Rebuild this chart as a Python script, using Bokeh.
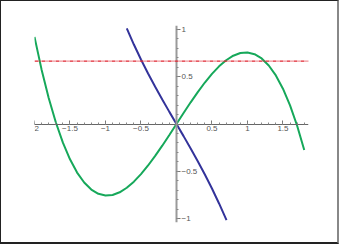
from bokeh.plotting import figure
from bokeh.models import LinearAxis, FixedTicker, Span, Range1d
from bokeh.embed import file_html
from bokeh.resources import INLINE

# green curve samples
green_x = [-2.0, -1.9, -1.8, -1.7, -1.6, -1.5, -1.4, -1.3, -1.2, -1.1, -1.0, -0.9, -0.8, -0.7, -0.6,
           -0.5, -0.4, -0.3, -0.2, -0.1, 0.0, 0.1, 0.2, 0.3, 0.4, 0.5, 0.6, 0.7, 0.8, 0.9, 1.0,
           1.1, 1.2, 1.3, 1.4, 1.5, 1.6, 1.7, 1.8]
green_y = [0.92, 0.574, 0.274, 0.018, -0.197, -0.373, -0.513, -0.618, -0.692, -0.737, -0.755, -0.749,
           -0.721, -0.673, -0.609, -0.529, -0.438, -0.337, -0.229, -0.116, 0.0, 0.116, 0.229, 0.337,
           0.438, 0.529, 0.609, 0.673, 0.721, 0.749, 0.755, 0.737, 0.692, 0.618, 0.513, 0.373,
           0.197, -0.018, -0.274]

# blue curve samples
blue_x = [-0.70, -0.6, -0.5, -0.4, -0.3, -0.2, -0.1, 0.0, 0.1, 0.2, 0.3, 0.4, 0.5, 0.6, 0.705]
blue_y = [1.01, 0.839, 0.681, 0.533, 0.393, 0.259, 0.128, 0.0, -0.128, -0.259, -0.393, -0.533,
          -0.681, -0.839, -1.015]

# horizontal reference line
ref_level = 0.663

x_ticks = [-2, -1.5, -1, -0.5, 0.5, 1, 1.5]
x_labels = ["\u22122", "\u22121.5", "\u22121", "\u22120.5", "0.5", "1", "1.5"]
y_ticks = [-1, -0.5, 0.5, 1]
y_labels = ["\u22121", "\u22120.5", "0.5", "1"]
x_minor = [round(-2 + 0.1 * i, 2) for i in range(39)]
y_minor = [round(-1 + 0.1 * i, 2) for i in range(21)]

p = figure(width=339, height=244, output_backend="svg", toolbar_location=None,
           x_range=Range1d(-2, 1.86), y_range=Range1d(-1.04, 1.04),
           x_axis_location=None, y_axis_location=None,
           min_border_left=33, min_border_right=32, min_border_top=24, min_border_bottom=23)
p.grid.visible = False
p.outline_line_color = None
p.background_fill_color = "white"
p.border_fill_color = "white"

xa = LinearAxis(fixed_location=0, ticker=FixedTicker(ticks=x_ticks, minor_ticks=x_minor))
xa.major_label_overrides = {float(t): l for t, l in zip(x_ticks, x_labels)}
xa.axis_line_color = "#666666"
xa.axis_line_width = 1
xa.major_tick_in = 4
xa.major_tick_out = 0
xa.minor_tick_in = 2
xa.minor_tick_out = 0
xa.major_tick_line_color = "#777777"
xa.minor_tick_line_color = "#888888"
xa.major_label_text_font = "Liberation Sans"
xa.major_label_text_font_size = "8px"
xa.major_label_text_color = "#555555"
xa.major_label_standoff = 2
p.add_layout(xa, "below")

ya = LinearAxis(fixed_location=0, ticker=FixedTicker(ticks=y_ticks, minor_ticks=y_minor))
ya.major_label_overrides = {float(t): l for t, l in zip(y_ticks, y_labels)}
ya.axis_line_color = "#9a9a9a"
ya.axis_line_width = 2
ya.major_tick_in = 0
ya.major_tick_out = 4
ya.minor_tick_in = 0
ya.minor_tick_out = 2
ya.major_tick_line_color = "#777777"
ya.minor_tick_line_color = "#888888"
ya.major_label_text_font = "Liberation Sans"
ya.major_label_text_font_size = "8px"
ya.major_label_text_color = "#555555"
ya.major_label_standoff = 1
p.add_layout(ya, "right")

p.add_layout(Span(location=ref_level, dimension="width", line_color="#e02530",
                  line_width=1.3, line_dash="4 1 1 1"))

p.line(green_x, green_y, line_color="#16a85a", line_width=2)
p.line(blue_x, blue_y, line_color="#33339a", line_width=2)

p.styles = {"border-left": "1px solid #222222", "border-top": "1px solid #222222",
            "border-right": "2px solid #888888", "border-bottom": "2px solid #222222"}

open("out.html", "w").write(file_html(p, INLINE))
